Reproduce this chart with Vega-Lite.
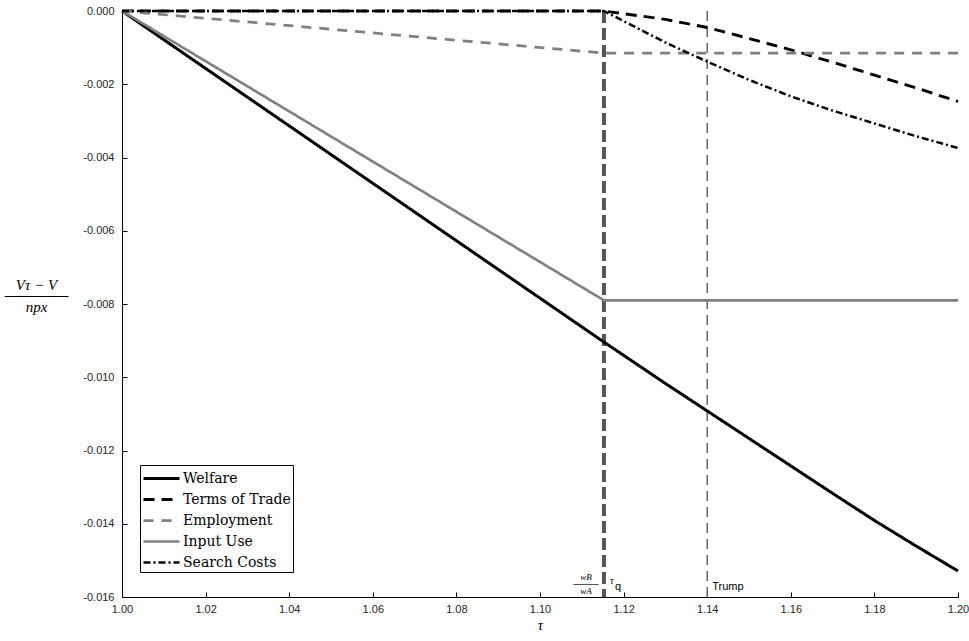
{
  "$schema": "https://vega.github.io/schema/vega-lite/v6.json",
  "autosize": "none",
  "width": 836,
  "height": 586,
  "padding": {"left": 122, "top": 11, "right": 11, "bottom": 44},
  "background": "white",
  "config": {"view": {"stroke": null}},
  "datasets": {
    "series": [
      {"tau": 1.00, "series": "Welfare", "value": 0},
      {"tau": 1.1153, "series": "Welfare", "value": -0.00904},
      {"tau": 1.13, "series": "Welfare", "value": -0.01017},
      {"tau": 1.14, "series": "Welfare", "value": -0.01092},
      {"tau": 1.15, "series": "Welfare", "value": -0.01167},
      {"tau": 1.16, "series": "Welfare", "value": -0.01242},
      {"tau": 1.17, "series": "Welfare", "value": -0.01317},
      {"tau": 1.18, "series": "Welfare", "value": -0.01391},
      {"tau": 1.19, "series": "Welfare", "value": -0.01461},
      {"tau": 1.20, "series": "Welfare", "value": -0.01529},
      {"tau": 1.00, "series": "Terms of Trade", "value": 0},
      {"tau": 1.1153, "series": "Terms of Trade", "value": 0},
      {"tau": 1.13, "series": "Terms of Trade", "value": -0.00023},
      {"tau": 1.14, "series": "Terms of Trade", "value": -0.00045},
      {"tau": 1.15, "series": "Terms of Trade", "value": -0.00075},
      {"tau": 1.16, "series": "Terms of Trade", "value": -0.00106},
      {"tau": 1.17, "series": "Terms of Trade", "value": -0.0014},
      {"tau": 1.18, "series": "Terms of Trade", "value": -0.00175},
      {"tau": 1.19, "series": "Terms of Trade", "value": -0.0021},
      {"tau": 1.20, "series": "Terms of Trade", "value": -0.00247},
      {"tau": 1.00, "series": "Employment", "value": 0},
      {"tau": 1.1153, "series": "Employment", "value": -0.00115},
      {"tau": 1.20, "series": "Employment", "value": -0.00115},
      {"tau": 1.00, "series": "Input Use", "value": 0},
      {"tau": 1.1153, "series": "Input Use", "value": -0.0079},
      {"tau": 1.20, "series": "Input Use", "value": -0.0079},
      {"tau": 1.00, "series": "Search Costs", "value": 0},
      {"tau": 1.1153, "series": "Search Costs", "value": 0},
      {"tau": 1.13, "series": "Search Costs", "value": -0.00086},
      {"tau": 1.14, "series": "Search Costs", "value": -0.00138},
      {"tau": 1.15, "series": "Search Costs", "value": -0.00188},
      {"tau": 1.16, "series": "Search Costs", "value": -0.00233},
      {"tau": 1.17, "series": "Search Costs", "value": -0.00272},
      {"tau": 1.18, "series": "Search Costs", "value": -0.00307},
      {"tau": 1.19, "series": "Search Costs", "value": -0.00342},
      {"tau": 1.20, "series": "Search Costs", "value": -0.00374}
    ],
    "wage": [{"tau": 1.1153, "bottom": -0.016}],
    "trump": [{"tau": 1.14, "bottom": -0.016}]
  },
  "layer": [
    {
      "data": {"name": "wage"},
      "mark": {"type": "rule", "color": "#555555", "strokeWidth": 4, "strokeDash": [12, 5]},
      "encoding": {
        "x": {"field": "tau", "type": "quantitative", "scale": {"domain": [1, 1.2], "nice": false}}
      }
    },
    {
      "data": {"name": "trump"},
      "mark": {"type": "rule", "color": "#666666", "strokeWidth": 1.5, "strokeDash": [10, 6]},
      "encoding": {
        "x": {"field": "tau", "type": "quantitative"}
      }
    },
    {
      "data": {"name": "series"},
      "mark": {"type": "line", "clip": false},
      "encoding": {
        "x": {
          "field": "tau", "type": "quantitative",
          "scale": {"domain": [1, 1.2], "nice": false, "zero": false},
          "axis": {
            "values": [1, 1.02, 1.04, 1.06, 1.08, 1.1, 1.12, 1.14, 1.16, 1.18, 1.2],
            "format": ".2f",
            "title": "τ",
            "titleFont": "Liberation Serif",
            "titleFontStyle": "italic",
            "titleFontWeight": "normal",
            "titleFontSize": 15,
            "titleColor": "black",
            "titlePadding": 3,
            "labelFont": "Liberation Sans",
            "labelFontSize": 11,
            "labelColor": "#262626",
            "labelPadding": 11,
            "labelFlush": false,
            "domainColor": "black",
            "domainWidth": 1,
            "tickColor": "black",
            "tickSize": -5,
            "grid": false
          }
        },
        "y": {
          "field": "value", "type": "quantitative",
          "scale": {"domain": [-0.016, 0], "nice": false, "zero": false},
          "axis": {
            "values": [0, -0.002, -0.004, -0.006, -0.008, -0.01, -0.012, -0.014, -0.016],
            "labelExpr": "replace(format(datum.value, '.3f'), '−', '-')",
            "title": ["Vτ − V", "──────", "npx"],
            "titleAngle": 0,
            "titleAlign": "center",
            "titleBaseline": "middle",
            "titleX": -86,
            "titleY": 273,
            "titleLineHeight": 11,
            "titleFont": "Liberation Serif",
            "titleFontStyle": "italic",
            "titleFontWeight": "normal",
            "titleFontSize": 15,
            "titleColor": "black",
            "labelFont": "Liberation Sans",
            "labelFontSize": 11,
            "labelColor": "#262626",
            "labelPadding": 13,
            "labelFlush": false,
            "domainColor": "black",
            "domainWidth": 1,
            "tickColor": "black",
            "tickSize": -5,
            "grid": false
          }
        },
        "color": {
          "field": "series", "type": "nominal",
          "scale": {
            "domain": ["Welfare", "Terms of Trade", "Employment", "Input Use", "Search Costs"],
            "range": ["#000000", "#000000", "#808080", "#808080", "#000000"]
          },
          "legend": {
            "title": null,
            "orient": "none",
            "legendX": 18,
            "legendY": 454,
            "fillColor": "white",
            "strokeColor": "black",
            "padding": 2,
            "symbolType": "M-1.8,0H1.8",
            "symbolSize": 400,
            "symbolOffset": 8,
            "labelFont": "DejaVu Serif",
            "labelFontSize": 14,
            "labelColor": "black",
            "labelOffset": 10,
            "rowPadding": 2
          }
        },
        "strokeDash": {
          "field": "series", "type": "nominal",
          "scale": {
            "domain": ["Welfare", "Terms of Trade", "Employment", "Input Use", "Search Costs"],
            "range": [[1, 0], [11, 7], [10, 8], [1, 0], [7, 3, 2, 3]]
          },
          "legend": null
        },
        "strokeWidth": {
          "field": "series", "type": "nominal",
          "scale": {
            "domain": ["Welfare", "Terms of Trade", "Employment", "Input Use", "Search Costs"],
            "range": [3, 2.5, 2.5, 2.5, 2.5]
          },
          "legend": null
        }
      }
    },
    {
      "data": {"name": "trump"},
      "mark": {"type": "text", "text": "Trump", "align": "left", "baseline": "middle", "dx": 5, "dy": -10, "font": "Liberation Sans", "fontSize": 11, "color": "black"},
      "encoding": {
        "x": {"field": "tau", "type": "quantitative"},
        "y": {"field": "bottom", "type": "quantitative"}
      }
    },
    {
      "data": {"name": "wage"},
      "mark": {"type": "text", "text": ["wB", "────", "wA"], "lineHeight": 7, "align": "center", "baseline": "middle", "dx": -18, "dy": -20, "font": "Liberation Serif", "fontStyle": "italic", "fontSize": 9, "color": "black"},
      "encoding": {
        "x": {"field": "tau", "type": "quantitative"},
        "y": {"field": "bottom", "type": "quantitative"}
      }
    },
    {
      "data": {"name": "wage"},
      "mark": {"type": "text", "text": "τ", "align": "left", "baseline": "middle", "dx": 6, "dy": -16, "font": "Liberation Serif", "fontStyle": "italic", "fontSize": 10, "color": "black"},
      "encoding": {
        "x": {"field": "tau", "type": "quantitative"},
        "y": {"field": "bottom", "type": "quantitative"}
      }
    },
    {
      "data": {"name": "wage"},
      "mark": {"type": "text", "text": "q", "align": "left", "baseline": "middle", "dx": 11, "dy": -10, "font": "Liberation Sans", "fontSize": 11, "color": "black"},
      "encoding": {
        "x": {"field": "tau", "type": "quantitative"},
        "y": {"field": "bottom", "type": "quantitative"}
      }
    }
  ]
}
